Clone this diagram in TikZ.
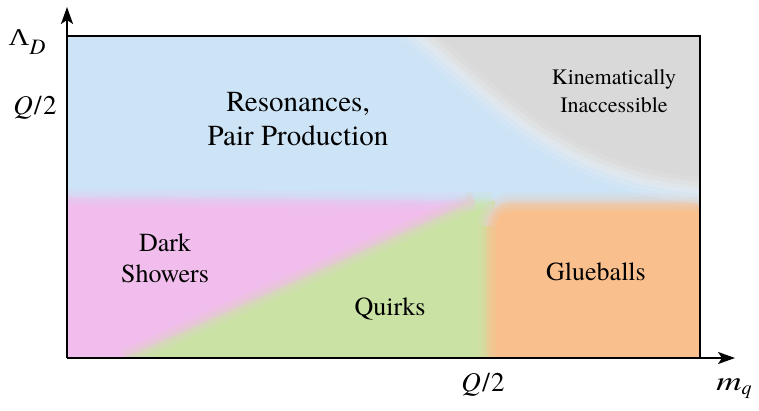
\documentclass[tikz,border=0pt]{standalone}
\usepackage{fontspec}
\setmainfont{texgyretermes}[Extension=.otf, UprightFont=*-regular, ItalicFont=*-italic, BoldFont=*-bold, BoldItalicFont=*-bolditalic]
\newfontfamily\greekfont{Liberation Serif}
\usetikzlibrary{arrows.meta}
\definecolor{cblue}{RGB}{205,227,246}
\definecolor{cgray}{RGB}{217,217,217}
\definecolor{cpink}{RGB}{241,189,236}
\definecolor{cgreen}{RGB}{202,227,164}
\definecolor{corange}{RGB}{249,192,142}
\tikzset{
  softedge/.style={draw=#1, line width=18pt, draw opacity=0.25,
    postaction={draw=#1, line width=10pt, draw opacity=0.35},
    postaction={draw=#1, line width=4pt, draw opacity=0.5}},
  glow/.style={draw=white, line width=26pt, draw opacity=0.1,
    postaction={draw=white, line width=16pt, draw opacity=0.12},
    postaction={draw=white, line width=7pt, draw opacity=0.14}},
  axisline/.style={line width=2pt, -{Stealth[length=17pt,width=12pt,inset=4pt]}},
  boxline/.style={line width=2pt},
  txtA/.style={font=\fontsize{29}{34}\selectfont, align=center, anchor=base, inner sep=0pt},
  txtB/.style={font=\fontsize{22}{28}\selectfont, align=center, anchor=base, inner sep=0pt},
  txtC/.style={font=\fontsize{26}{31}\selectfont, align=center, anchor=base, inner sep=0pt},
  axlbl/.style={anchor=base, inner sep=0pt}
}
\begin{document}
\begin{tikzpicture}[x=1pt,y=-1pt]
\useasboundingbox (0,0) rectangle (759,411);
\coordinate (O) at (67,358);
\coordinate (ytip) at (67,7);
\coordinate (xtip) at (735,358);
\coordinate (TL) at (67,36);
\coordinate (TR) at (700,36);
\coordinate (BR) at (700,358);
\begin{scope}
  \clip (67,36) rectangle (700,358);
  \fill[cblue] (67,36) rectangle (700,358);
  \fill[cgray] (418,36) .. controls (490,95) and (560,180) .. (700,190) -- (710,190) -- (710,30) -- (418,30) -- cycle;
  \fill[cpink] (60,197) -- (474,201) -- (125,358) -- (60,358) -- cycle;
  \fill[cgreen] (125,358) -- (474,201) -- (495,201) -- (495,365) -- (125,365) -- cycle;
  \fill[corange, rounded corners=24pt] (487,372) -- (487,202) -- (712,202) -- (712,372) -- cycle;
  % soft boundaries
  \draw[softedge=cblue!50!cgreen] (466,201) -- (492,201);
  \draw[softedge=cblue!50!cpink] (40,197) -- (474,201);
  \draw[softedge=cpink!50!cgreen] (125,358) -- (474,201);
  \draw[softedge=cgreen!50!corange] (487,372) -- (487,226);
  \draw[softedge=cblue!55!corange, rounded corners=24pt] (487,226) -- (487,202) -- (715,202);
  \draw[softedge=cblue!50!cgray] (405,25) -- (418,36) .. controls (490,95) and (560,180) .. (700,190) -- (720,190);
  \draw[glow] (405,25) -- (418,36) .. controls (490,95) and (560,180) .. (700,190) -- (720,190);
\end{scope}
\draw[boxline] (TL) -- (TR) -- (BR);
\draw[axisline] (O) -- (ytip);
\draw[axisline] (O) -- (xtip);
\node[txtA] (res) at (298,146) {Resonances,\\Pair Production};
\node[txtB] (kin) at (614,113) {Kinematically\\Inaccessible};
\node[txtC] (dark) at (165,283) {Dark\\Showers};
\node[txtC] (quirks) at (390,315) {Quirks};
\node[txtC] (glue) at (596,280) {Glueballs};
\node[axlbl, font=\fontsize{24}{28}\selectfont] (lam) at (27,46) {\scalebox{1.2}[1]{\greekfont Λ}\raisebox{-9pt}{\fontsize{22}{26}\selectfont\itshape D}};
\node[axlbl, font=\fontsize{27}{32}\selectfont] (qy) at (35,115) {{\itshape Q}\kern1.5pt/\kern1.5pt2};
\node[axlbl, font=\fontsize{27}{32}\selectfont] (qx) at (483,391) {{\itshape Q}\kern1.5pt/\kern1.5pt2};
\node[axlbl, font=\fontsize{27}{32}\selectfont] (mq) at (734,390) {\scalebox{1.3}[1]{\itshape m}\raisebox{-4pt}{\fontsize{20}{24}\selectfont\itshape q}};
\end{tikzpicture}
\end{document}
